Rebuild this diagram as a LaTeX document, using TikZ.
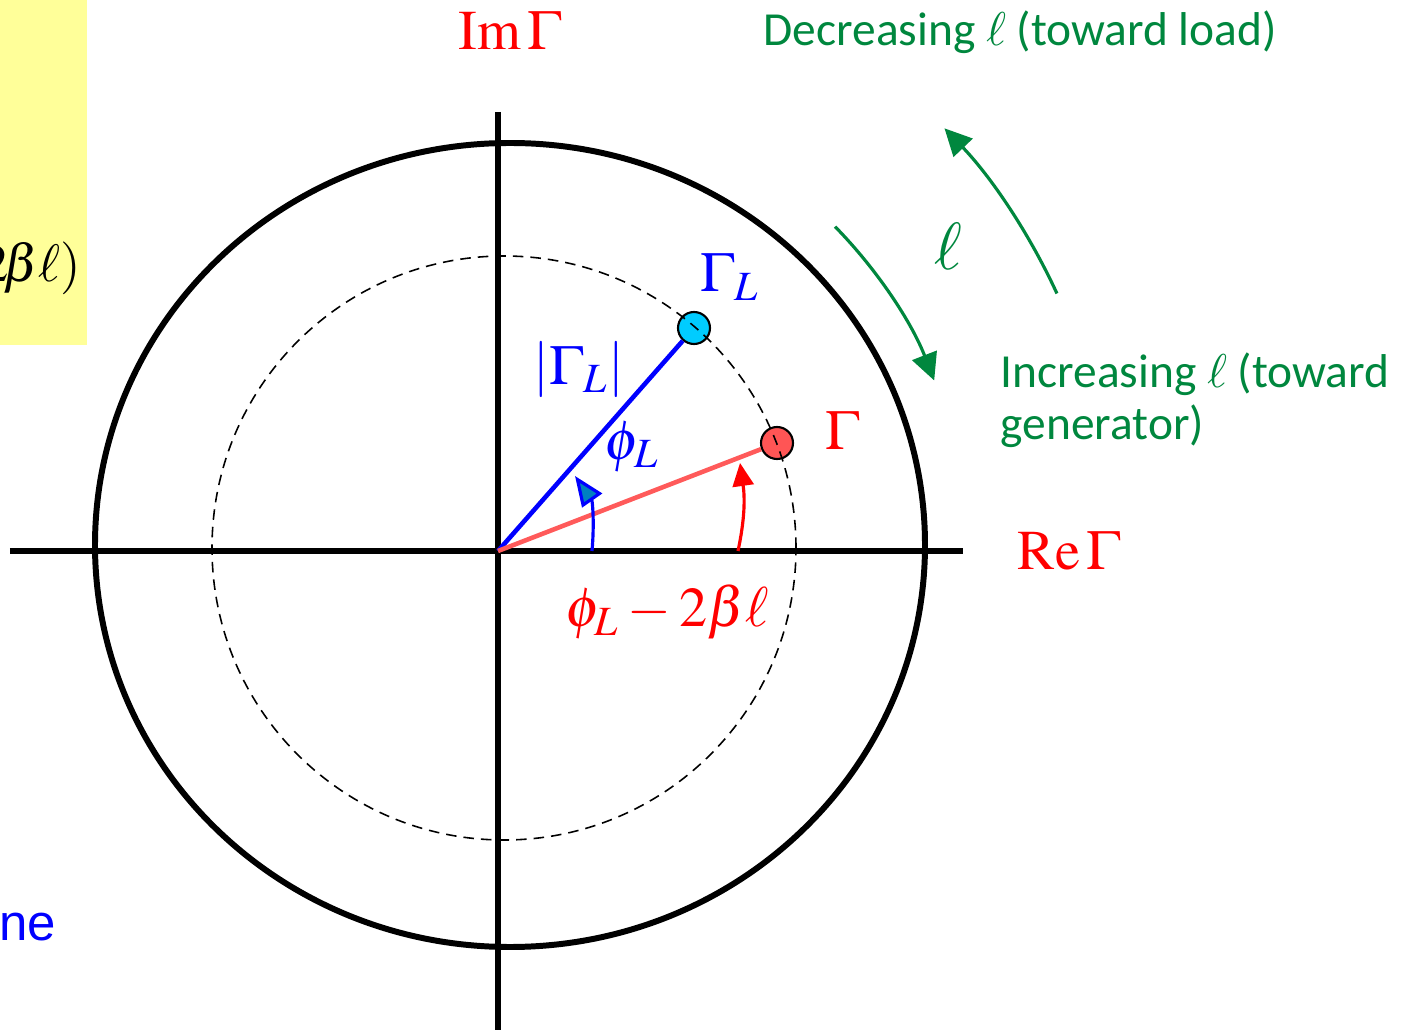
\documentclass[tikz,border=0pt]{standalone}
\usepackage{mathptmx}
\usepackage{fontspec}
\setmainfont{Liberation Serif}
\newfontfamily\calibrifont{Carlito}
\newfontfamily\arialfont{Liberation Sans}
\usetikzlibrary{arrows.meta}
\definecolor{notegreen}{RGB}{0,135,62}
\definecolor{linered}{RGB}{255,90,90}
\definecolor{dotred}{RGB}{255,85,85}
\definecolor{dotcyan}{RGB}{0,204,255}
\definecolor{headblue}{RGB}{0,128,192}
\definecolor{boxyellow}{RGB}{255,255,153}
\tikzset{
  axisline/.style={line width=1.7pt},
  dot/.style={circle, draw=black, line width=0.6pt, minimum size=0.32cm, inner sep=0pt},
  mathlabel/.style={font=\fontsize{16}{19}\selectfont, inner sep=0pt},
  notelabel/.style={notegreen, font=\calibrifont\fontsize{13.5}{14.8}\selectfont, inner sep=0pt},
  greenarrow/.style={notegreen, line width=0.9pt, -{Triangle[length=0.27cm,width=0.26cm]}},
}

\begin{document}
\begin{tikzpicture}
  \useasboundingbox (-4.98,-4.83) rectangle (9.06,5.51);
  % yellow note box, cut at the left edge
  \fill[boxyellow] (-4.98,2.06) rectangle (-4.11,5.51);
  \node[mathlabel, font=\fontsize{15}{18}\selectfont, anchor=east] (eqtail) at (-4.16,2.83) {$2\!\beta\ell)$};
  \node[blue, font=\arialfont\fontsize{14.5}{17}\selectfont, anchor=base east, inner sep=0pt]
    (planelabel) at (-4.41,-3.89) {ne};

  % axes and unit circle
  \coordinate (O) at (0,0);
  \coordinate (C) at (0.12,0.06);
  \draw[axisline] (-4.88,0) -- (4.65,0);
  \draw[axisline] (0,4.39) -- (0,-4.79);
  \draw[axisline] (C) ellipse [x radius=4.15, y radius=4.02];

  % reflection coefficients
  \node[dot, fill=dotcyan] (GL) at (1.96,2.23) {};
  \node[dot, fill=dotred] (G) at (2.79,1.08) {};
  \draw[blue, line width=1.3pt] (O) -- (GL);
  \draw[linered, line width=1.3pt] (O) -- (G);
  \draw[line width=0.45pt, dash pattern=on 3pt off 2pt] (0.06,0.03) circle [radius=2.92];

  % angle arrows
  \draw[blue, line width=0.9pt, -{Triangle[length=0.3cm,width=0.24cm,fill=headblue]}]
    (0.94,0) to[out=85,in=-55] (0.77,0.75);
  \draw[red, line width=0.9pt, -{Triangle[length=0.23cm,width=0.21cm]}]
    (2.40,0) to[out=78,in=-82] (2.42,0.88);

  % direction of travel
  \draw[greenarrow] ([shift={(44.4:4.55)}]C) arc [start angle=44.4, end angle=21.2, radius=4.55];
  \draw[greenarrow] ([shift={(24.7:6.02)}]C) arc [start angle=24.7, end angle=43.8, radius=6.02];

  % labels
  \node[mathlabel, red, anchor=base] (imlabel) at (0.12,5.01) {$\mathrm{Im}\,\Gamma$};
  \node[mathlabel, red, anchor=base west] (relabel) at (5.19,-0.19) {$\mathrm{Re}\,\Gamma$};
  \node[mathlabel, blue, anchor=base west] (gllabel) at (2.02,2.59) {$\Gamma_L$};
  \node[mathlabel, blue] (maglabel) at (0.81,1.81) {$\left|\Gamma_L\right|$};
  \node[mathlabel, blue] (philabel) at (1.34,1.04) {$\phi_L$};
  \node[mathlabel, red, anchor=base west] (glabel) at (3.27,1.01) {$\Gamma$};
  \node[mathlabel, red] (anglabel) at (1.69,-0.61) {$\phi_L-2\beta\ell$};
  \node[notegreen, font=\fontsize{19}{22}\selectfont] (elllabel) at (4.50,3.04) {$\ell$};
  \node[notelabel, anchor=base west] (declabel) at (2.65,5.05) {Decreasing $\ell$ (toward load)};
  \node[notelabel, anchor=north west, align=left] (inclabel) at (5.02,1.99)
    {Increasing $\ell$ (toward\\generator)};
\end{tikzpicture}
\end{document}
